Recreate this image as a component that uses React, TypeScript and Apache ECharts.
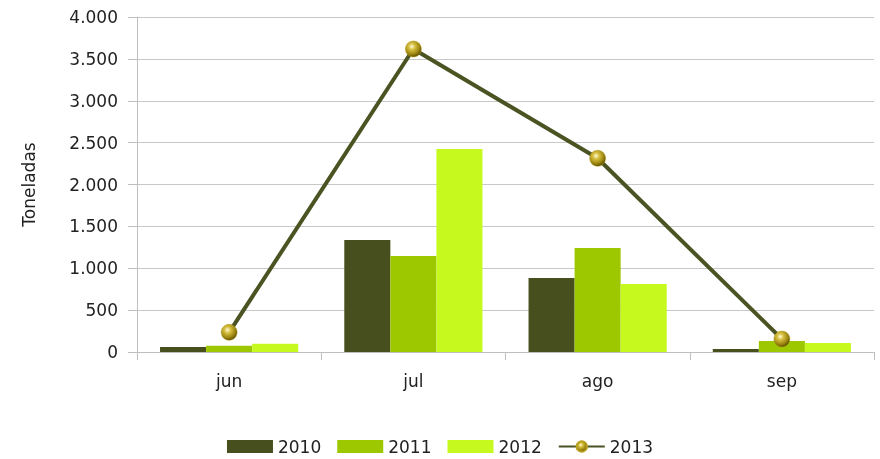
import React, { useEffect, useRef } from "react";
import * as echarts from "echarts";

const categories = ["jun", "jul", "ago", "sep"];
const s2010 = [60, 1337, 884, 36];
const s2011 = [75, 1146, 1242, 131];
const s2012 = [100, 2424, 812, 107];
const s2013 = [235, 3618, 2313, 155];
const seriesNames = ["2010", "2011", "2012", "2013"];

const FONT = "DejaVu Sans";

export default function App() {
  const ref = useRef<HTMLDivElement>(null);
  useEffect(() => {
    if (!ref.current) return;
    const chart = echarts.init(ref.current, undefined, { renderer: "svg" });
    const ball = new echarts.graphic.RadialGradient(0.4, 0.35, 0.65, [
      { offset: 0, color: "#fffbe0" },
      { offset: 0.3, color: "#d8c040" },
      { offset: 0.75, color: "#9a8410" },
      { offset: 1, color: "#5e5000" },
    ]);
    chart.setOption({
      animation: false,
      textStyle: { fontFamily: FONT },
      grid: { left: 137, right: 6, top: 17, bottom: 107, containLabel: false },
      legend: {
        top: 433,
        left: "center",
        itemWidth: 46,
        itemHeight: 13,
        itemGap: 16,
        textStyle: { fontFamily: FONT, fontSize: 17, color: "#222" },
        data: [
          { name: seriesNames[0], icon: "rect" },
          { name: seriesNames[1], icon: "rect" },
          { name: seriesNames[2], icon: "rect" },
          { name: seriesNames[3] },
        ],
      },
      xAxis: {
        type: "category",
        data: categories,
        axisLine: { show: true, lineStyle: { color: "#bfbfbf", width: 1 } },
        axisTick: { show: true, length: 8, lineStyle: { color: "#bfbfbf" } },
        axisLabel: { fontFamily: FONT, fontSize: 17, color: "#222", margin: 20 },
      },
      yAxis: {
        type: "value",
        min: 0,
        max: 4000,
        interval: 500,
        name: "Toneladas",
        nameLocation: "middle",
        nameGap: 100,
        nameRotate: 90,
        nameTextStyle: { fontFamily: FONT, fontSize: 17, color: "#222" },
        axisLine: { show: true, lineStyle: { color: "#bfbfbf", width: 1 } },
        axisTick: { show: true, length: 9, lineStyle: { color: "#bfbfbf" } },
        splitLine: { show: true, lineStyle: { color: "#c8c8c8", width: 1 } },
        axisLabel: {
          fontFamily: FONT,
          fontSize: 17,
          color: "#222",
          margin: 19,
          formatter: (v: number) => v.toLocaleString("de-DE"),
        },
      },
      series: [
        {
          name: seriesNames[0],
          type: "bar",
          data: s2010,
          barGap: "0%",
          barCategoryGap: "25%",
          itemStyle: { color: "#474f1f" },
        },
        {
          name: seriesNames[1],
          type: "bar",
          data: s2011,
          barGap: "0%",
          barCategoryGap: "25%",
          itemStyle: { color: "#9dc800" },
        },
        {
          name: seriesNames[2],
          type: "bar",
          data: s2012,
          barGap: "0%",
          barCategoryGap: "25%",
          itemStyle: { color: "#c6fa1e" },
        },
        {
          name: seriesNames[3],
          type: "line",
          data: s2013,
          symbol: "circle",
          symbolSize: 16,
          lineStyle: { color: "#4a5322", width: 4 },
          itemStyle: { color: ball, borderColor: "#b8a020", borderWidth: 0.5 },
          z: 5,
        },
      ],
    });
    return () => chart.dispose();
  }, []);
  return (
    <div
      ref={ref}
      style={{ position: "fixed", left: 0, top: 0, width: 880, height: 459 }}
    />
  );
}
